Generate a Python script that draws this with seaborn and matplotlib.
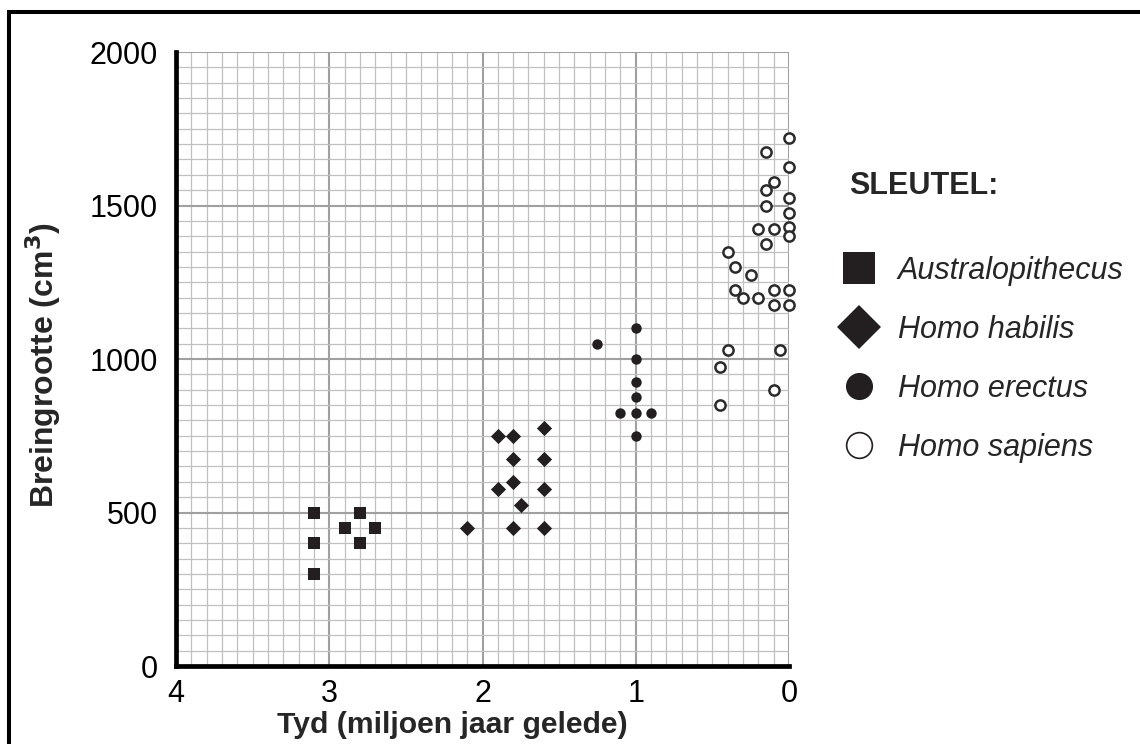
import matplotlib
matplotlib.use('Agg')
import matplotlib.pyplot as plt
from matplotlib.lines import Line2D
from matplotlib.patches import Rectangle
from matplotlib.ticker import MultipleLocator
import seaborn as sns

# Values (tyd in miljoen jaar gelede, breingrootte in cm3)
aus_tyd = [3.1, 3.1, 3.1, 2.9, 2.8, 2.8, 2.7]
aus_brein = [500, 400, 300, 450, 500, 400, 450]

habilis_tyd = [1.6, 1.9, 1.8, 1.8, 1.6, 1.8, 1.9, 1.6, 1.75, 2.1, 1.8, 1.6]
habilis_brein = [775, 750, 750, 675, 675, 600, 575, 575, 525, 450, 450, 450]

erectus_tyd = [1.0, 1.25, 1.0, 1.0, 1.0, 1.1, 1.0, 0.9, 1.0]
erectus_brein = [1100, 1050, 1000, 925, 875, 825, 825, 825, 750]

sapiens_tyd = [0.0, 0.15, 0.0, 0.1, 0.15, 0.0, 0.15, 0.0, 0.0, 0.2,
               0.1, 0.0, 0.15, 0.4, 0.35, 0.25, 0.35, 0.3, 0.2, 0.1,
               0.0, 0.1, 0.0, 0.4, 0.06, 0.45, 0.1, 0.45]
sapiens_brein = [1720, 1675, 1625, 1575, 1550, 1525, 1500, 1475, 1430, 1425,
                 1425, 1400, 1375, 1350, 1300, 1275, 1225, 1200, 1200, 1225,
                 1225, 1175, 1175, 1030, 1030, 975, 900, 850]

species = ['Australopithecus', 'Homo habilis', 'Homo erectus', 'Homo sapiens']
tyd_ticks = [4, 3, 2, 1, 0]
brein_ticks = [0, 500, 1000, 1500, 2000]

INK = '#231f20'

sns.set_style('white')
plt.rcParams['font.family'] = ['Liberation Sans', 'DejaVu Sans']

fig = plt.figure(figsize=(11.4, 7.44), dpi=100)
ax = fig.add_axes([0.1544, 0.1048, 0.5377, 0.8253])

# fine graph-paper grid
ax.xaxis.set_major_locator(MultipleLocator(1))
ax.xaxis.set_minor_locator(MultipleLocator(0.1))
ax.yaxis.set_major_locator(MultipleLocator(500))
ax.yaxis.set_minor_locator(MultipleLocator(50))
ax.grid(which='minor', color='#c0c0c0', linewidth=0.9)
ax.grid(which='major', color='#a0a0a0', linewidth=1.5)
ax.set_axisbelow(True)

sns.scatterplot(x=aus_tyd, y=aus_brein, marker='s', s=80, color=INK,
                linewidth=0, ax=ax, zorder=3, clip_on=False)
sns.scatterplot(x=habilis_tyd, y=habilis_brein, marker='D', s=60, color=INK,
                linewidth=0, ax=ax, zorder=3, clip_on=False)
sns.scatterplot(x=erectus_tyd, y=erectus_brein, marker='o', s=56, color=INK,
                linewidth=0, ax=ax, zorder=3, clip_on=False)
sns.scatterplot(x=sapiens_tyd, y=sapiens_brein, marker='o', s=54,
                facecolor='white', edgecolor='#2b2b2b', linewidth=1.8,
                ax=ax, zorder=3, clip_on=False)

ax.set_xlim(4, 0)
ax.set_ylim(0, 2000)
ax.set_xticks(tyd_ticks, [str(t) for t in tyd_ticks])
ax.set_yticks(brein_ticks, [str(b) for b in brein_ticks])

for side in ['top', 'right']:
    ax.spines[side].set_visible(False)
for side in ['left', 'bottom']:
    ax.spines[side].set_color('black')
    ax.spines[side].set_linewidth(3.4)
    ax.spines[side].set_zorder(4)

ax.tick_params(which='minor', length=0)
ax.tick_params(which='major', length=4, width=1.3, color='#707070',
               labelsize=22, labelcolor='black')
ax.tick_params(axis='y', pad=9)
ax.tick_params(axis='x', pad=5)

ax.set_xlabel('Tyd (miljoen jaar gelede)', fontsize=21.7, fontweight='bold')
ax.set_ylabel('Breingrootte (cm$^\\mathbf{3}$)', fontsize=23, fontweight='bold')
ax.xaxis.set_label_coords(0.45, -0.074)
ax.yaxis.set_label_coords(-0.184, 0.49)

# key on the right
fig.text(849 / 1140, 1 - 186 / 744, 'SLEUTEL:', fontsize=22, fontweight='bold',
         ha='left', va='center')
handles = [
    Line2D([], [], linestyle='none', marker='s', markersize=23, color=INK, mew=0),
    Line2D([], [], linestyle='none', marker='D', markersize=22, color=INK, mew=0),
    Line2D([], [], linestyle='none', marker='o', markersize=19.5, color=INK, mew=0),
    Line2D([], [], linestyle='none', marker='o', markersize=18.5, mfc='white',
           mec=INK, mew=1.2),
]
fig.legend(handles, species, loc='upper left',
           bbox_to_anchor=(841 / 1140, 1 - 256 / 744), frameon=False,
           prop={'style': 'italic', 'size': 22}, handlelength=1.2,
           handletextpad=0.65, labelspacing=0.95, borderpad=0, borderaxespad=0)

# outer frame (only top/left edge are inside the picture)
fig.add_artist(Rectangle((9.3 / 1140, -0.1), 1.2, 1.0845, transform=fig.transFigure,
                         fill=False, edgecolor='black', linewidth=2.9, clip_on=False))

fig.savefig('out.png', dpi=100)
